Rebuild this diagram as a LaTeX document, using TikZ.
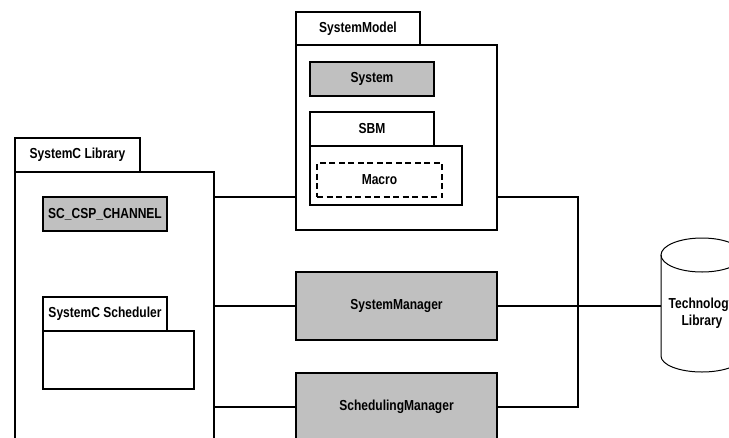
\documentclass[tikz,border=0pt]{standalone}
\usepackage{fontspec}
\setmainfont{Liberation Sans}[FakeStretch=0.83]
\begin{document}
\begin{tikzpicture}[x=1pt,y=-1pt,
  box/.style={draw, line width=1.6pt, inner sep=0pt, outer sep=0pt,
    font=\fontsize{14.5}{17.4}\selectfont\bfseries, align=center},
  shaded/.style={box, fill=boxgray},
  wire/.style={line width=1.5pt},
  drum/.style={line width=1pt}]
\definecolor{boxgray}{HTML}{C0C0C0}
\useasboundingbox (0,0) rectangle (729,437);
\clip (0,0) rectangle (729,437);

% SystemC library package
\node[box, minimum width=125pt, minimum height=34pt] (libtab) at (77.5,155) {SystemC Library};
\node[box, minimum width=199pt, minimum height=298pt] (libbody) at (114.5,321) {};
\node[shaded, minimum width=124pt, minimum height=34pt] (chan) at (105,214) {SC\_CSP\_CHANNEL};
\node[box, minimum width=124pt, minimum height=34pt] (schedtab) at (105,314) {SystemC Scheduler};
\node[box, minimum width=151pt, minimum height=58pt] (schedbody) at (118.5,360) {};

% System model package
\node[box, minimum width=124pt, minimum height=33pt] (modeltab) at (358,28.5) {SystemModel};
\node[box, minimum width=201pt, minimum height=185pt] (modelbody) at (396.5,137.5) {};
\node[shaded, minimum width=124pt, minimum height=34pt] (system) at (372,79) {System};
\node[box, minimum width=124pt, minimum height=34pt] (sbmtab) at (372,129) {SBM};
\node[box, minimum width=152pt, minimum height=59pt] (sbmbody) at (386,175.5) {};
\node[box, dash pattern=on 6pt off 3.5pt, minimum width=125pt, minimum height=34pt] (macro) at (379.5,180) {Macro};

% Managers
\node[shaded, minimum width=201pt, minimum height=68pt] (sysmgr) at (396.5,306) {SystemManager};
\node[shaded, minimum width=201pt, minimum height=68pt] (schedmgr) at (396.5,407) {SchedulingManager};

% Technology library drum
\node[inner sep=0pt, outer sep=0pt, minimum width=82pt, minimum height=101pt] (techlib) at (702,305.5) {};
\node[font=\fontsize{14.5}{17.4}\selectfont\bfseries, align=center, inner sep=0pt] (techtext) at (702,313) {Technology\\Library};
\draw[drum] (techlib.north west) -- (techlib.south west)
  arc[start angle=180, end angle=360, x radius=41pt, y radius=16pt]
  -- (techlib.north east);
\draw[drum] (techlib.north) ellipse [x radius=41pt, y radius=17pt];

% Connectors
\coordinate (j1) at (0,197);
\coordinate (bus) at (578,306);
\draw[wire] (libbody.east |- j1) -- (modelbody.west |- j1);
\draw[wire] (libbody.east |- sysmgr.west) -- (sysmgr.west);
\draw[wire] (libbody.east |- schedmgr.west) -- (schedmgr.west);
\draw[wire] (modelbody.east |- j1) -| (schedmgr.east -| bus) -- (schedmgr.east);
\draw[wire] (sysmgr.east) -- (techlib.west |- sysmgr.east);
\end{tikzpicture}
\end{document}
